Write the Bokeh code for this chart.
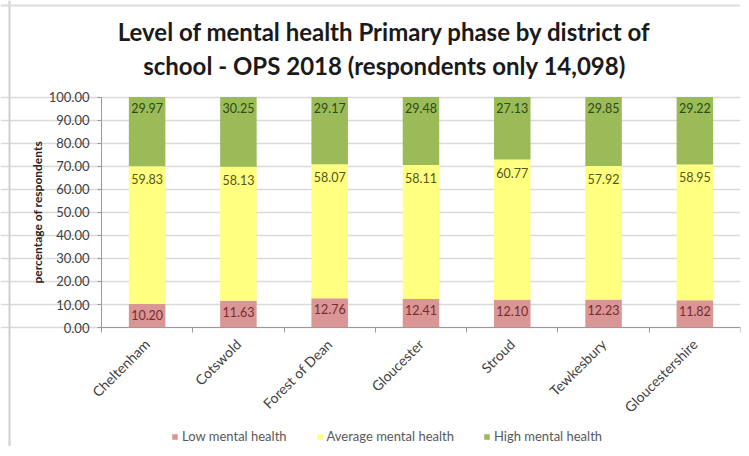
import math
from bokeh.plotting import figure
from bokeh.models import (ColumnDataSource, Range1d, FixedTicker, Legend,
                          LegendItem, Label, Span)
from bokeh.core.properties import value
from bokeh.embed import file_html
from bokeh.resources import INLINE

districts = ["Cheltenham", "Cotswold", "Forest of Dean", "Gloucester",
             "Stroud", "Tewkesbury", "Gloucestershire"]
low = [10.20, 11.63, 12.76, 12.41, 12.10, 12.23, 11.82]
average = [59.83, 58.13, 58.07, 58.11, 60.77, 57.92, 58.95]
high = [29.97, 30.25, 29.17, 29.48, 27.13, 29.85, 29.22]
y_ticks = [0, 10, 20, 30, 40, 50, 60, 70, 80, 90, 100]
y_title = "percentage of respondents"
title_lines = ["Level of mental health Primary phase by district of",
               "school - OPS 2018 (respondents only 14,098)"]

FONT = "Lato"
C_LOW, C_AVG, C_HIGH = "#d99694", "#ffff80", "#9bbb59"

n = len(districts)
xs = [i + 0.5 for i in range(n)]
low_top = low
avg_top = [a + b for a, b in zip(low, average)]
high_top = [a + b for a, b in zip(avg_top, high)]

src = ColumnDataSource(dict(
    x=xs, low=low, average=average, high=high,
    low_top=low_top, avg_top=avg_top, high_top=high_top,
    low_txt=["%.2f" % v for v in low],
    avg_txt=["%.2f" % v for v in average],
    high_txt=["%.2f" % v for v in high],
))

# the frame covers the whole canvas; axes are pinned at x=0 and y=0
p = figure(width=741, height=446, output_backend="svg", toolbar_location=None,
           x_range=Range1d(-1.106, n), y_range=Range1d(-51.6, 141.9),
           min_border_left=0, min_border_right=1, min_border_top=0,
           min_border_bottom=0, outline_line_color=None)
p.title = None

# light outer frame lines of the original picture (left and top edges)
p.add_layout(Span(location=9, location_units="screen", dimension="height",
                  line_color="#cfcfcf", line_width=2))
p.add_layout(Span(location=441, location_units="screen", dimension="width",
                  line_color="#dcdcdc", line_width=2))

r = p.vbar_stack(["low", "average", "high"], x="x", width=0.4, source=src,
                 color=[C_LOW, C_AVG, C_HIGH], line_color=None)

for top, txt, col, off in [("low_top", "low_txt", "#7a2a33", 6),
                           ("avg_top", "avg_txt", "#55551a", 8),
                           ("high_top", "high_txt", "#2e4a12", 6)]:
    p.text(x="x", y=top, text=txt, source=src, text_align="center",
           text_baseline="top", y_offset=off, text_font=value(FONT),
           text_font_size="12.5px", text_color=col)

# x axis drawn at y = 0
p.xaxis.fixed_location = 0
p.xaxis.bounds = (0, n)
p.xaxis.ticker = FixedTicker(ticks=xs, minor_ticks=list(range(n + 1)))
p.xaxis.major_label_overrides = {x: d for x, d in zip(xs, districts)}
p.xaxis.major_label_orientation = math.pi / 4
p.xaxis.major_tick_line_color = None
p.xaxis.minor_tick_out = 5
p.xaxis.minor_tick_in = 0
p.xaxis.minor_tick_line_color = "#9a9a9a"
p.xaxis.axis_line_color = "#9a9a9a"
p.xaxis.major_label_text_font = FONT
p.xaxis.major_label_text_font_size = "14px"
p.xaxis.major_label_text_color = "#404040"
p.xaxis.major_label_standoff = 8

# y axis drawn at x = 0
p.yaxis.fixed_location = 0
p.yaxis.bounds = (0, 100)
p.yaxis.ticker = FixedTicker(ticks=y_ticks)
p.yaxis.major_label_overrides = {t: "%.2f" % t for t in y_ticks}
p.yaxis.minor_tick_line_color = None
p.yaxis.major_tick_out = 4
p.yaxis.major_tick_in = 0
p.yaxis.major_tick_line_color = "#9a9a9a"
p.yaxis.axis_line_color = "#9a9a9a"
p.yaxis.major_label_text_font = FONT
p.yaxis.major_label_text_font_size = "13px"
p.yaxis.major_label_text_color = "#404040"
p.yaxis.major_label_standoff = 8

# y axis title, centred on the 0-100 span
p.text(x=[0], y=[50], text=[y_title], angle=math.pi / 2, x_offset=-64,
       text_align="center", text_baseline="middle", text_font=value(FONT),
       text_font_size="12px", text_font_style="bold", text_color="#262626")

p.xgrid.grid_line_color = None
p.ygrid.grid_line_color = "#d9d9d9"
p.ygrid.grid_line_width = 1.5
p.ygrid.bounds = (0, n)

# two-line chart title (screen pixels measured from the canvas bottom-left)
for txt, yy in zip(title_lines, [415, 381]):
    p.add_layout(Label(x=384, y=yy, x_units="screen", y_units="screen", text=txt,
                       text_align="center", text_baseline="middle",
                       text_font=FONT, text_font_size="24px",
                       text_font_style="bold", text_color="#1a1a1a"))

legend = Legend(items=[LegendItem(label="Low mental health", renderers=[r[0]]),
                       LegendItem(label="Average mental health", renderers=[r[1]]),
                       LegendItem(label="High mental health", renderers=[r[2]])],
                orientation="horizontal", location=(171, 2),
                glyph_width=7, glyph_height=7, label_text_font=FONT,
                label_text_font_size="13px", label_text_color="#595959",
                spacing=29, padding=2, label_standoff=4,
                border_line_color=None, background_fill_alpha=0)
p.add_layout(legend, "center")

open("out.html", "w").write(file_html(p, INLINE))
